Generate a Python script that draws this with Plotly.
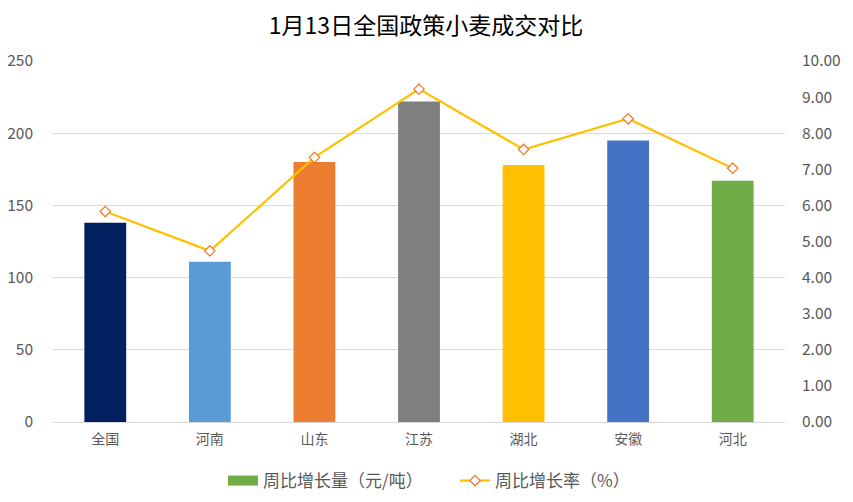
import plotly.graph_objects as go

categories = ["全国", "河南", "山东", "江苏", "湖北", "安徽", "河北"]
increase_amount = [138, 111, 180, 222, 178, 195, 167]
increase_rate = [5.83, 4.74, 7.33, 9.22, 7.55, 8.40, 7.03]
bar_colors = ["#002060", "#5B9BD5", "#ED7D31", "#7F7F7F", "#FFC000", "#4472C4", "#70AD47"]
left_ticks = [0, 50, 100, 150, 200, 250]
right_ticks = [0, 1, 2, 3, 4, 5, 6, 7, 8, 9, 10]

FONT = "Noto Sans CJK SC"
W, H = 853, 502
OFF = 8  # page body margin offset

fig = go.Figure()
fig.add_trace(go.Bar(
    x=categories, y=increase_amount, marker=dict(color=bar_colors, line=dict(width=0)),
    width=0.4, showlegend=False, name="周比增长量（元/吨）", yaxis="y",
))
# legend entry for the bar series (wide swatch like Excel)
fig.add_trace(go.Scatter(
    x=[None], y=[None], mode="lines", line=dict(color="#70AD47", width=10),
    name="周比增长量（元/吨）", showlegend=True, yaxis="y",
))
fig.add_trace(go.Scatter(
    x=categories, y=increase_rate, mode="lines+markers", name="周比增长率（%）",
    line=dict(color="#FFC000", width=2.2),
    marker=dict(symbol="diamond", size=8, color="white", line=dict(color="#ED7D31", width=1.3)),
    yaxis="y2",
))

fig.update_layout(
    width=W, height=H,
    paper_bgcolor="white", plot_bgcolor="white",
    margin=dict(l=53 - OFF, r=W - (785 - OFF), t=61 - OFF, b=H - (422 - OFF), autoexpand=False),
    title=dict(text="1月13日全国政策小麦成交对比", x=(426 - OFF) / W, xanchor="center",
               y=1 - (26 - OFF) / H, yanchor="middle",
               font=dict(family=FONT, size=23, color="#000000")),
    font=dict(family=FONT, color="#595959"),
    xaxis=dict(showgrid=False, showline=False, ticks="", automargin=False,
               tickfont=dict(size=14, color="#595959"), ticklabelstandoff=7),
    yaxis=dict(range=[0, 250], tickvals=left_ticks, showgrid=True, gridcolor="#D9D9D9", gridwidth=1,
               zeroline=True, zerolinecolor="#D9D9D9", zerolinewidth=1, automargin=False,
               tickfont=dict(size=15.5, color="#595959"), ticks="", ticklabelstandoff=19),
    yaxis2=dict(range=[0, 10], tickvals=right_ticks, tickformat=".2f", overlaying="y", side="right",
                showgrid=False, zeroline=False, automargin=False,
                tickfont=dict(size=15.5, color="#595959"), ticks="", ticklabelstandoff=16),
    legend=dict(orientation="h", x=(223 - OFF) / W, xanchor="left", xref="container",
                y=1 - (481 - OFF) / H, yanchor="middle", yref="container",
                entrywidth=187, entrywidthmode="pixels",
                font=dict(size=17, color="#595959"), traceorder="normal"),
)

fig.write_html("out.html")
